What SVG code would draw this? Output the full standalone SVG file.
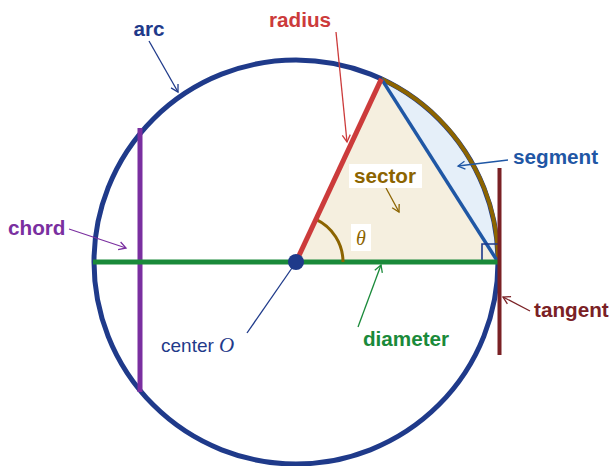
<svg xmlns="http://www.w3.org/2000/svg" width="613" height="466" viewBox="0 0 613 466">
<defs>
<style>
.lbl{font-family:"Liberation Sans",Arial,sans-serif;font-size:20.7px;font-weight:bold}
.lead{fill:none;stroke-width:1.3}
</style>
<marker id="aNavy" markerWidth="12" markerHeight="12" refX="10" refY="6" orient="auto" markerUnits="userSpaceOnUse"><path d="M3,2 L10,6 L3,10" fill="none" stroke="#1f3a8a" stroke-width="1.3"/></marker>
<marker id="aRed" markerWidth="12" markerHeight="12" refX="10" refY="6" orient="auto" markerUnits="userSpaceOnUse"><path d="M3,2 L10,6 L3,10" fill="none" stroke="#cc3b3b" stroke-width="1.3"/></marker>
<marker id="aBrown" markerWidth="12" markerHeight="12" refX="10" refY="6" orient="auto" markerUnits="userSpaceOnUse"><path d="M3,2 L10,6 L3,10" fill="none" stroke="#8c6400" stroke-width="1.3"/></marker>
<marker id="aBlue" markerWidth="12" markerHeight="12" refX="10" refY="6" orient="auto" markerUnits="userSpaceOnUse"><path d="M3,2 L10,6 L3,10" fill="none" stroke="#1f57a5" stroke-width="1.3"/></marker>
<marker id="aPurple" markerWidth="12" markerHeight="12" refX="10" refY="6" orient="auto" markerUnits="userSpaceOnUse"><path d="M3,2 L10,6 L3,10" fill="none" stroke="#7a2fa0" stroke-width="1.3"/></marker>
<marker id="aGreen" markerWidth="12" markerHeight="12" refX="10" refY="6" orient="auto" markerUnits="userSpaceOnUse"><path d="M3,2 L10,6 L3,10" fill="none" stroke="#1a8a3a" stroke-width="1.3"/></marker>
<marker id="aDark" markerWidth="12" markerHeight="12" refX="10" refY="6" orient="auto" markerUnits="userSpaceOnUse"><path d="M3,2 L10,6 L3,10" fill="none" stroke="#7a2125" stroke-width="1.3"/></marker>
</defs>

<g id="sector-region">
<path d="M296,262 L381.4,78.9 L498,262 Z" fill="#f5efdf"/>
<path d="M381.4,78.9 A202,202 0 0,1 498,262 Z" fill="#e5eff9"/>
</g>

<g id="circle">
<circle cx="296" cy="262" r="202" fill="none" stroke="#1f3a8a" stroke-width="5"/>
</g>

<g id="arc-sector">
<path d="M381.4,78.9 A202,202 0 0,1 498,262" fill="none" stroke="#8c6400" stroke-width="4"/>
</g>

<g id="segment-chord">
<line x1="381.4" y1="78.9" x2="498" y2="262" stroke="#1f57a5" stroke-width="3.5"/>
</g>

<g id="right-angle">
<path d="M482,262 L482,244 L498,244" fill="none" stroke="#1f3a8a" stroke-width="1.6"/>
</g>

<g id="chord">
<line x1="140" y1="128" x2="140" y2="392" stroke="#7a2fa0" stroke-width="5"/>
</g>

<g id="diameter">
<line x1="93" y1="262" x2="498" y2="262" stroke="#1a8a3a" stroke-width="5"/>
</g>

<g id="tangent">
<line x1="499.5" y1="168" x2="499.5" y2="355" stroke="#7a2125" stroke-width="4"/>
</g>

<g id="theta-arc">
<path d="M343,262 A47,47 0 0,0 315.9,219.4" fill="none" stroke="#8c6400" stroke-width="3"/>
</g>

<g id="radius">
<line x1="296" y1="262" x2="381.4" y2="78.9" stroke="#cc3b3b" stroke-width="5"/>
</g>

<g id="center">
<circle cx="296" cy="262" r="8" fill="#1f3a8a"/>
</g>

<g id="connectors">
<line class="lead" x1="149" y1="41" x2="178" y2="92" stroke="#1f3a8a" marker-end="url(#aNavy)"/>
<line class="lead" x1="336" y1="32" x2="347" y2="142" stroke="#cc3b3b" marker-end="url(#aRed)"/>
<line class="lead" x1="386" y1="188" x2="399" y2="212" stroke="#8c6400" marker-end="url(#aBrown)"/>
<line class="lead" x1="508" y1="160" x2="458" y2="166" stroke="#1f57a5" marker-end="url(#aBlue)"/>
<line class="lead" x1="69" y1="229" x2="126" y2="248" stroke="#7a2fa0" marker-end="url(#aPurple)"/>
<line class="lead" x1="530" y1="311" x2="503" y2="297" stroke="#7a2125" marker-end="url(#aDark)"/>
<line class="lead" x1="358" y1="327" x2="381" y2="265" stroke="#1a8a3a" marker-end="url(#aGreen)"/>
<line class="lead" x1="247" y1="333" x2="292" y2="268" stroke="#1f3a8a"/>
</g>

<g id="labels">
<text class="lbl" x="149" y="36" text-anchor="middle" fill="#1f3a8a">arc</text>
<text class="lbl" x="300" y="27" text-anchor="middle" fill="#cc3b3b">radius</text>
<rect x="349" y="164" width="73" height="24" fill="#ffffff"/>
<text class="lbl" x="385" y="183" text-anchor="middle" fill="#8c6400">sector</text>
<text class="lbl" x="513" y="164" fill="#1f57a5">segment</text>
<text class="lbl" x="8" y="235" fill="#7a2fa0">chord</text>
<text class="lbl" x="534" y="317" fill="#7a2125">tangent</text>
<text class="lbl" x="406" y="346" text-anchor="middle" fill="#1a8a3a">diameter</text>
<rect x="351" y="224" width="20" height="27" fill="#ffffff"/>
<text x="361" y="245" text-anchor="middle" font-family="Liberation Serif,serif" font-style="italic" font-size="20" fill="#8c6400">θ</text>
<text x="161" y="352" font-family="Liberation Sans,Arial,sans-serif" font-size="19" fill="#1f3a8a">center <tspan font-family="Liberation Serif,serif" font-style="italic" font-size="21">O</tspan></text>
</g>
</svg>
